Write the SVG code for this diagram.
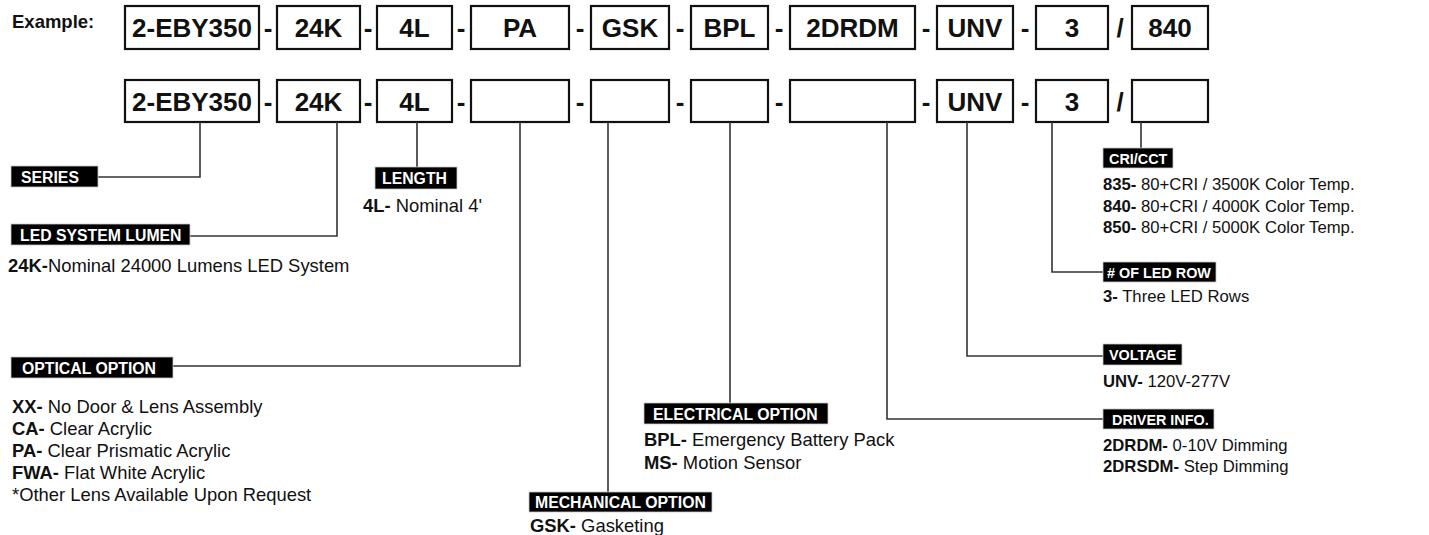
<svg xmlns="http://www.w3.org/2000/svg" width="1429" height="535" viewBox="0 0 1429 535">
<style>
  .bx{fill:#fff;stroke:#111;stroke-width:2.2}
  .bt{font-family:"Liberation Sans",Arial,sans-serif;font-weight:bold;font-size:26px;fill:#111;text-anchor:middle}
  .sep{font-family:"Liberation Sans",Arial,sans-serif;font-weight:bold;font-size:26px;fill:#111;text-anchor:middle}
  .lb{fill:#000;stroke:#c8c8c8;stroke-width:0.8}
  .lt{font-family:"Liberation Sans",Arial,sans-serif;font-weight:bold;font-size:15.8px;fill:#fff}
  .lt2{font-family:"Liberation Sans",Arial,sans-serif;font-weight:bold;font-size:14.4px;fill:#fff}
  .d{font-family:"Liberation Sans",Arial,sans-serif;font-size:18.4px;fill:#111}
  .d2{font-family:"Liberation Sans",Arial,sans-serif;font-size:16.7px;fill:#111}
  .b{font-weight:bold}
  .cn{fill:none;stroke:#333;stroke-width:1.6}
</style>
<rect width="1429" height="535" fill="#fff"/>
<text x="12" y="28" font-family="Liberation Sans,Arial,sans-serif" font-weight="bold" font-size="18.5" fill="#111">Example:</text>

<g id="row1">
  <rect class="bx" x="125" y="6" width="134" height="43"/><text class="bt" x="192" y="37">2-EBY350</text>
  <rect class="bx" x="277" y="6" width="83" height="43"/><text class="bt" x="318.5" y="37">24K</text>
  <rect class="bx" x="377" y="6" width="75" height="43"/><text class="bt" x="414.5" y="37">4L</text>
  <rect class="bx" x="471" y="6" width="98" height="43"/><text class="bt" x="520" y="37">PA</text>
  <rect class="bx" x="591" y="6" width="78" height="43"/><text class="bt" x="630" y="37">GSK</text>
  <rect class="bx" x="691" y="6" width="77" height="43"/><text class="bt" x="729.5" y="37">BPL</text>
  <rect class="bx" x="790" y="6" width="125" height="43"/><text class="bt" x="852.5" y="37">2DRDM</text>
  <rect class="bx" x="937" y="6" width="76" height="43"/><text class="bt" x="975" y="37">UNV</text>
  <rect class="bx" x="1036" y="6" width="72" height="43"/><text class="bt" x="1072" y="37">3</text>
  <rect class="bx" x="1132" y="6" width="76" height="43"/><text class="bt" x="1170" y="37">840</text>
  <text class="sep" x="268" y="37">-</text><text class="sep" x="368" y="37">-</text><text class="sep" x="461" y="37">-</text>
  <text class="sep" x="580" y="37">-</text><text class="sep" x="680" y="37">-</text><text class="sep" x="779" y="37">-</text>
  <text class="sep" x="926" y="37">-</text><text class="sep" x="1025" y="37">-</text><text class="sep" x="1120" y="37">/</text>
</g>

<g id="row2">
  <g id="n-series-box"><rect class="bx" x="125" y="80" width="134" height="42"/><text class="bt" x="192" y="111">2-EBY350</text></g>
  <g id="n-lumen-box"><rect class="bx" x="277" y="80" width="83" height="42"/><text class="bt" x="318.5" y="111">24K</text></g>
  <g id="n-length-box"><rect class="bx" x="377" y="80" width="75" height="42"/><text class="bt" x="414.5" y="111">4L</text></g>
  <g id="n-optical-box"><rect class="bx" x="471" y="80" width="98" height="42"/></g>
  <g id="n-mech-box"><rect class="bx" x="591" y="80" width="78" height="42"/></g>
  <g id="n-elec-box"><rect class="bx" x="691" y="80" width="77" height="42"/></g>
  <g id="n-driver-box"><rect class="bx" x="790" y="80" width="125" height="42"/></g>
  <g id="n-voltage-box"><rect class="bx" x="937" y="80" width="76" height="42"/><text class="bt" x="975" y="111">UNV</text></g>
  <g id="n-row-box"><rect class="bx" x="1036" y="80" width="72" height="42"/><text class="bt" x="1072" y="111">3</text></g>
  <g id="n-cri-box"><rect class="bx" x="1132" y="80" width="76" height="42"/></g>
  <text class="sep" x="268" y="111">-</text><text class="sep" x="368" y="111">-</text><text class="sep" x="461" y="111">-</text>
  <text class="sep" x="580" y="111">-</text><text class="sep" x="680" y="111">-</text><text class="sep" x="779" y="111">-</text>
  <text class="sep" x="926" y="111">-</text><text class="sep" x="1025" y="111">-</text><text class="sep" x="1120" y="111">/</text>
</g>

<g id="connectors">
  <path class="cn" d="M98,177 H200 V122"/>
  <path class="cn" d="M190,236 H337 V122"/>
  <path class="cn" d="M417,122 V167"/>
  <path class="cn" d="M173,366 H520 V122"/>
  <path class="cn" d="M608,122 V492"/>
  <path class="cn" d="M730,122 V403"/>
  <path class="cn" d="M887,122 V419 H1103"/>
  <path class="cn" d="M967,122 V356 H1103"/>
  <path class="cn" d="M1052,122 V272 H1103"/>
  <path class="cn" d="M1141,122 V148"/>
</g>

<g id="series">
  <rect class="lb" x="11" y="166" width="87" height="21"/>
  <text class="lt" x="21" y="183" font-size="17.8">SERIES</text>
</g>
<g id="lumen">
  <rect class="lb" x="11" y="224" width="179" height="21"/>
  <text class="lt" x="20" y="241">LED SYSTEM LUMEN</text>
  <text class="d" x="8" y="272"><tspan class="b">24K-</tspan>Nominal 24000 Lumens LED System</text>
</g>
<g id="length">
  <rect class="lb" x="375" y="167" width="82" height="22"/>
  <text class="lt" x="382" y="184">LENGTH</text>
  <text class="d" x="363" y="212"><tspan class="b">4L-</tspan> Nominal 4'</text>
</g>
<g id="optical">
  <rect class="lb" x="11" y="357" width="162" height="21"/>
  <text class="lt" x="22" y="374">OPTICAL OPTION</text>
  <text class="d" x="12" y="413"><tspan class="b">XX-</tspan> No Door &amp; Lens Assembly</text>
  <text class="d" x="12" y="435"><tspan class="b">CA-</tspan> Clear Acrylic</text>
  <text class="d" x="12" y="457"><tspan class="b">PA-</tspan> Clear Prismatic Acrylic</text>
  <text class="d" x="12" y="479"><tspan class="b">FWA-</tspan> Flat White Acrylic</text>
  <text class="d" x="12" y="501">*Other Lens Available Upon Request</text>
</g>
<g id="mechanical">
  <rect class="lb" x="529" y="492" width="183" height="20"/>
  <text class="lt" x="535" y="508">MECHANICAL OPTION</text>
  <text class="d" x="530" y="532"><tspan class="b">GSK-</tspan> Gasketing</text>
</g>
<g id="electrical">
  <rect class="lb" x="644" y="403" width="184" height="21"/>
  <text class="lt" x="653" y="420">ELECTRICAL OPTION</text>
  <text class="d" x="644" y="446"><tspan class="b">BPL-</tspan> Emergency Battery Pack</text>
  <text class="d" x="644" y="469"><tspan class="b">MS-</tspan> Motion Sensor</text>
</g>
<g id="driver">
  <rect class="lb" x="1103" y="409" width="111" height="20"/>
  <text class="lt2" x="1112" y="425">DRIVER INFO.</text>
  <text class="d2" x="1103" y="451"><tspan class="b">2DRDM-</tspan> 0-10V Dimming</text>
  <text class="d2" x="1103" y="472"><tspan class="b">2DRSDM-</tspan> Step Dimming</text>
</g>
<g id="voltage">
  <rect class="lb" x="1103" y="344" width="79" height="21"/>
  <text class="lt2" x="1109" y="360">VOLTAGE</text>
  <text class="d2" x="1103" y="387"><tspan class="b">UNV-</tspan> 120V-277V</text>
</g>
<g id="ledrow">
  <rect class="lb" x="1103" y="262" width="113" height="20"/>
  <text class="lt2" x="1107" y="278"># OF LED ROW</text>
  <text class="d2" x="1103" y="302"><tspan class="b">3-</tspan> Three LED Rows</text>
</g>
<g id="cricct">
  <rect class="lb" x="1103" y="148" width="70" height="20"/>
  <text class="lt2" x="1109" y="164">CRI/CCT</text>
  <text class="d2" x="1103" y="190"><tspan class="b">835-</tspan> 80+CRI / 3500K Color Temp.</text>
  <text class="d2" x="1103" y="212"><tspan class="b">840-</tspan> 80+CRI / 4000K Color Temp.</text>
  <text class="d2" x="1103" y="233"><tspan class="b">850-</tspan> 80+CRI / 5000K Color Temp.</text>
</g>
</svg>
